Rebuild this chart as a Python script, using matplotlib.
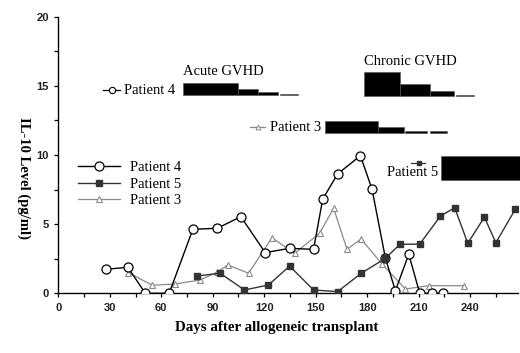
import matplotlib
matplotlib.use("Agg")
import matplotlib.pyplot as plt
from matplotlib.lines import Line2D

# ---- data ----
p4_days = [28, 40.5, 50.7, 64.6, 78.4, 92.6, 106.4, 120.6, 134.8, 148.8, 154.1, 162.8, 176.1, 182.9, 190.7, 196.5, 204.3, 210.7, 217.9, 224.3]
p4_vals = [1.74, 1.88, 0, 0, 4.63, 4.70, 5.54, 2.94, 3.25, 3.18, 6.80, 8.63, 9.95, 7.52, 2.53, 0.19, 2.82, 0, 0, 0]

p5_days = [80.9, 94.3, 108.5, 122.5, 134.8, 148.8, 162.8, 176.6, 190.7, 199.1, 210.7, 222.8, 231.1, 238.7, 248.4, 255.1, 266.4]
p5_vals = [1.25, 1.45, 0.24, 0.60, 1.97, 0.24, 0.12, 1.45, 2.53, 3.54, 3.56, 5.59, 6.19, 3.62, 5.50, 3.66, 6.07]

p3_days = [40.8, 54.8, 67.7, 82.7, 92.4, 98.8, 110.9, 124.5, 137.7, 152.3, 160.5, 168.3, 176.5, 188.7, 202.3, 215.9, 236.4]
p3_vals = [1.49, 0.58, 0.67, 0.96, 1.52, 2.05, 1.45, 4.02, 2.89, 4.34, 6.15, 3.18, 3.93, 2.12, 0.31, 0.55, 0.55]

# GVHD severity bars: (start day, end day, height), common baseline per group
acute4_start = [72.6, 104.7, 116.5, 129.4]
acute4_end = [104.7, 116.1, 127.8, 140.0]
acute4_height = [0.84, 0.41, 0.19, 0.09]
acute4_base = 14.34

chronic4_start = [178.0, 199.0, 216.5, 231.9]
chronic4_end = [199.0, 216.5, 230.9, 242.2]
chronic4_height = [1.71, 0.84, 0.38, 0.09]
chronic4_base = 14.27

p3bar_start = [155.6, 186.2, 202.3, 216.5]
p3bar_end = [186.2, 201.3, 215.0, 226.7]
p3bar_height = [0.85, 0.41, 0.09, 0.09]
p3bar_base = 11.61

p5bar_start = [223.3]
p5bar_end = [268.9]
p5bar_height = [1.76]
p5bar_base = 8.19

x_ticks = [0, 30, 60, 90, 120, 150, 180, 210, 240]
y_ticks = [0, 5, 10, 15, 20]

# ---- styling ----
SERIF = "Liberation Serif"
SANS = "Liberation Sans"
P4C = "black"
P5C = "#333333"
P3C = "#8a8a8a"

fig = plt.figure(figsize=(5.2, 3.53), dpi=100)
ax = fig.add_axes([58.4 / 520, 1 - 293.3 / 353, (518 - 58.4) / 520, 276.6 / 353])

l4, = ax.plot(p4_days, p4_vals, color=P4C, lw=1.0, marker="o", ms=6.5,
              mfc="white", mec=P4C, mew=0.9, zorder=4)
l5, = ax.plot(p5_days, p5_vals, color=P5C, lw=1.0, marker="s", ms=3.8,
              mfc=P5C, mec=P5C, zorder=5)
l3, = ax.plot(p3_days, p3_vals, color=P3C, lw=0.9, marker="^", ms=4.5,
              mfc="white", mec=P3C, mew=0.8, zorder=3)

def draw_bars(starts, ends, heights, base):
    widths = [e - s for s, e in zip(starts, ends)]
    ax.bar(starts, heights, width=widths, bottom=base, align="edge",
           color="black", edgecolor="#555555", linewidth=0.4, clip_on=False, zorder=6)

draw_bars(acute4_start, acute4_end, acute4_height, acute4_base)
draw_bars(chronic4_start, chronic4_end, chronic4_height, chronic4_base)
draw_bars(p3bar_start, p3bar_end, p3bar_height, p3bar_base)
draw_bars(p5bar_start, p5bar_end, p5bar_height, p5bar_base)

ax.text(72.6, 16.02, "Acute GVHD", fontfamily=SERIF, fontsize=10.5, va="center", ha="left")
ax.text(178.0, 16.75, "Chronic GVHD", fontfamily=SERIF, fontsize=10.5, va="center", ha="left")

# inline patient labels
ax.plot([26.0, 36.0], [14.69, 14.69], color=P4C, lw=0.9, clip_on=False)
ax.plot([31.3], [14.69], marker="o", ms=4.5, mfc="white", mec=P4C, mew=0.8, clip_on=False)
ax.text(38.3, 14.69, "Patient 4", fontfamily=SERIF, fontsize=10.5, va="center", ha="left")

ax.plot([111.9, 120.6], [12.02, 12.02], color=P3C, lw=0.9, clip_on=False)
ax.plot([116.4], [12.02], marker="^", ms=3.5, mfc="white", mec=P3C, mew=0.7, clip_on=False)
ax.text(123.3, 12.02, "Patient 3", fontfamily=SERIF, fontsize=10.5, va="center", ha="left")

ax.plot([205.7, 214.0], [9.44, 9.44], color=P5C, lw=0.9, clip_on=False)
ax.plot([210.0], [9.44], marker="s", ms=3.2, mfc=P5C, mec=P5C, clip_on=False)
ax.text(191.7, 8.77, "Patient 5", fontfamily=SERIF, fontsize=10.5, va="center", ha="left")

# axes
ax.set_xlim(0, 268)
ax.set_ylim(0, 20)
ax.spines["top"].set_visible(False)
ax.spines["right"].set_visible(False)
ax.spines["left"].set_linewidth(1.0)
ax.spines["bottom"].set_linewidth(1.0)
ax.set_xticks(x_ticks)
ax.set_xticks([15, 45, 75, 105, 135, 165, 195, 225, 255], minor=True)
ax.set_yticks(y_ticks)
ax.set_yticks([2.5, 7.5, 12.5, 17.5], minor=True)
ax.tick_params(axis="both", which="both", direction="out", length=3, width=0.9)
ax.tick_params(axis="both", which="major", pad=4, labelsize=8)
for lab in ax.get_xticklabels() + ax.get_yticklabels():
    lab.set_fontfamily(SANS)
    lab.set_fontweight("bold")
    lab.set_color("#222222")

fig.text(276.5 / 520, 1 - 328 / 353, "Days after allogeneic transplant",
         fontfamily=SERIF, fontsize=10.8, fontweight="bold", ha="center", va="center")
fig.text(24 / 520, 1 - 177.5 / 353, "IL-10 Level (pg/ml)", rotation=-90,
         fontfamily=SERIF, fontsize=10.5, fontweight="bold", ha="center", va="center")

leg = ax.legend([l4, l5, l3], ["Patient 4", "Patient 5", "Patient 3"],
                loc="center left", bbox_to_anchor=(78 / 520, 1 - 184 / 353),
                bbox_transform=fig.transFigure, frameon=False, borderpad=0,
                borderaxespad=0, handlelength=2.9, handletextpad=0.7,
                labelspacing=0.2, numpoints=1, prop={"family": SERIF, "size": 10.5})

fig.savefig("out.png", dpi=100)
